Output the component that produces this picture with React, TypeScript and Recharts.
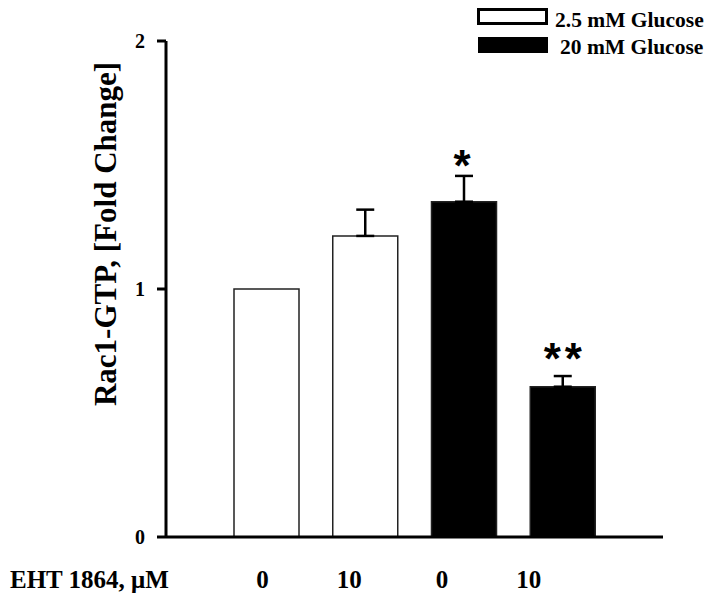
import React from 'react'
import { BarChart, Bar, XAxis, YAxis, Cell, ErrorBar, LabelList } from 'recharts'

// EHT 1864 dose for each bar, and the glucose condition it belongs to
const doses = ['0', '10', '0', '10']
const glucoseGroup = ['2.5 mM Glucose', '2.5 mM Glucose', '20 mM Glucose', '20 mM Glucose']
const foldChange = [1.0, 1.214, 1.352, 0.606]
const sem = [0, 0.106, 0.104, 0.043]
const significance = ['', '', '*', '**']
const legendGroups = ['2.5 mM Glucose', '20 mM Glucose']
const yTicks = [0, 1, 2]

const serif = '"Liberation Serif", "Times New Roman", serif'
const groupFill: Record<string, string> = {
    '2.5 mM Glucose': '#ffffff',
    '20 mM Glucose': '#000000',
}
// tick labels in the original figure sit a little left of the bar centres
const tickShift = [-4, -16, -22, -34]

const data = doses.map((dose, i) => ({
    key: `${dose}-${i}`,
    dose,
    group: glucoseGroup[i],
    value: foldChange[i],
    // control bar is the normalisation reference, so it has no error bar
    err: sem[i] > 0 ? [0, sem[i]] : null,
    sig: significance[i],
}))

const DoseTick = (props: any) => {
    const { x, y, payload, index } = props
    return (
        <text
            x={x + (tickShift[index] ?? 0)}
            y={y + 51}
            textAnchor="middle"
            fontFamily={serif}
            fontWeight="bold"
            fontSize={25}
            fill="#000"
        >
            {doses[index] ?? payload.value}
        </text>
    )
}

const SigLabel = (props: any) => {
    const { x, y, width, height, index } = props
    const mark = significance[index]
    if (!mark) return null
    const perUnit = height / foldChange[index]
    const errTop = y - sem[index] * perUnit
    return (
        <text
            x={x + width / 2 + (mark.length > 1 ? 2 : 0)}
            y={errTop + (mark.length > 1 ? -2 : 5)}
            textAnchor="middle"
            fontFamily='"Liberation Sans", Arial, sans-serif'
            fontWeight="bold"
            fontSize={44}
            letterSpacing={4}
            fill="#000"
        >
            {mark}
        </text>
    )
}

const GlucoseLegend = () => (
    <svg width={245} height={60} style={{ position: 'absolute', left: 469, top: 0 }}>
        {legendGroups.map((g, i) => (
            <g key={g}>
                <rect
                    x={i === 0 ? 9.5 : 9}
                    y={i === 0 ? 9.5 : 37}
                    width={i === 0 ? 68 : 70}
                    height={i === 0 ? 14 : 16}
                    fill={groupFill[g]}
                    stroke="#000"
                    strokeWidth={i === 0 ? 3 : 0}
                />
                <text
                    x={i === 0 ? 86 : 91}
                    y={i === 0 ? 27 : 54}
                    fontFamily={serif}
                    fontWeight="bold"
                    fontSize={21.5}
                    fill="#000"
                >
                    {g}
                </text>
            </g>
        ))}
    </svg>
)

export default function App() {
    return (
        <div style={{ position: 'absolute', left: 0, top: 0, width: 713, height: 598, background: '#fff' }}>
            <BarChart
                width={713}
                height={598}
                data={data}
                margin={{ top: 41, right: 50, bottom: 31, left: 0 }}
            >
                <XAxis
                    dataKey="key"
                    height={30}
                    stroke="#000"
                    strokeWidth={3}
                    tickLine={false}
                    tickSize={0}
                    tickMargin={0}
                    padding={{ left: 51, right: 51 }}
                    tick={<DoseTick />}
                    interval={0}
                    label={{
                        content: () => (
                            <text
                                x={10}
                                y={588}
                                fontFamily={serif}
                                fontWeight="bold"
                                fontSize={25}
                                fill="#000"
                            >
                                EHT 1864, μM
                            </text>
                        ),
                    }}
                />
                <YAxis
                    width={166}
                    domain={[0, 2]}
                    ticks={yTicks}
                    stroke="#000"
                    strokeWidth={3}
                    tickSize={9}
                    tickMargin={12}
                    tick={{ fill: '#000', fontSize: 20, fontWeight: 'bold', fontFamily: serif }}
                    label={{
                        content: () => (
                            <text
                                x={0}
                                y={0}
                                transform="translate(116 234) rotate(-90)"
                                textAnchor="middle"
                                fontFamily={serif}
                                fontWeight="bold"
                                fontSize={31}
                                fill="#000"
                            >
                                Rac1-GTP, [Fold Change]
                            </text>
                        ),
                    }}
                />
                <Bar
                    dataKey="value"
                    barSize={65}
                    stroke="#222"
                    strokeWidth={1.5}
                    isAnimationActive={false}
                >
                    {data.map(d => (
                        <Cell key={d.key} fill={groupFill[d.group]} />
                    ))}
                    <ErrorBar
                        dataKey="err"
                        width={9}
                        stroke="#000"
                        strokeWidth={2.5}
                        direction="y"
                    />
                    <LabelList dataKey="sig" content={<SigLabel />} />
                </Bar>
            </BarChart>
            <GlucoseLegend />
        </div>
    )
}
